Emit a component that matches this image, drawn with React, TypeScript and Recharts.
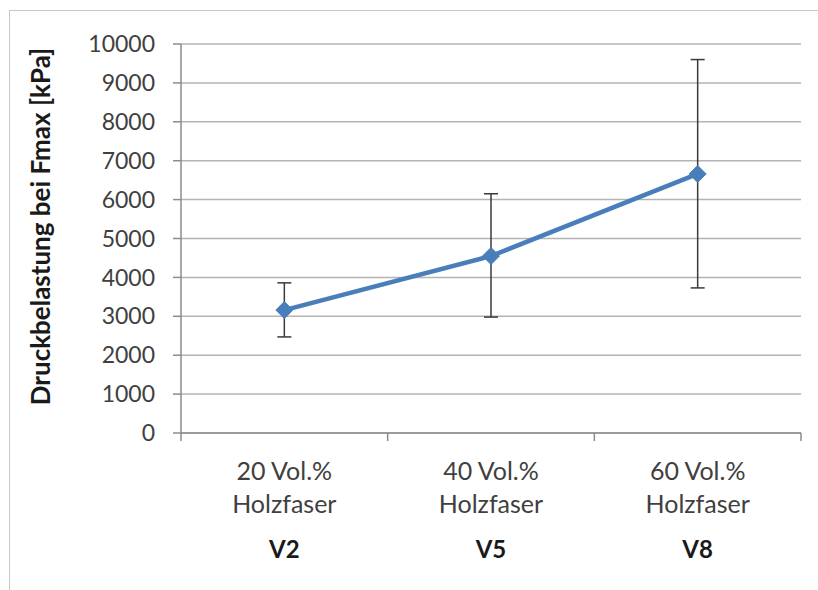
import React from "react";
import {
  ComposedChart,
  Line,
  XAxis,
  YAxis,
  CartesianGrid,
  ErrorBar,
  Label,
} from "recharts";

const categories = ["V2", "V5", "V8"];
const categoryLines = ["20 Vol.%", "40 Vol.%", "60 Vol.%"];
const categorySub = ["Holzfaser", "Holzfaser", "Holzfaser"];
const meanValues = [3160, 4550, 6660];
const lowerValues = [2470, 2980, 3730];
const upperValues = [3860, 6150, 9600];
const yTicks = [0, 1000, 2000, 3000, 4000, 5000, 6000, 7000, 8000, 9000, 10000];
const yLabel = "Druckbelastung bei Fmax [kPa]";

const data = categories.map((c, i) => ({
  cat: c,
  value: meanValues[i],
  err: [meanValues[i] - lowerValues[i], upperValues[i] - meanValues[i]],
}));

const FONT = "Lato, 'Open Sans', sans-serif";
const GRID = "#b4b4b4";
const AXIS = "#8c8c8c";

const CatTick = (props: any) => {
  const { x, y, payload, index } = props;
  const half = payload && payload.offset ? payload.offset : 0;
  const i = index;
  const isLast = i === categories.length - 1;
  return (
    <g>
      <line x1={x - half} x2={x - half} y1={y} y2={y + 8} stroke={AXIS} strokeWidth={1.5} />
      {isLast && (
        <line x1={x + half} x2={x + half} y1={y} y2={y + 8} stroke={AXIS} strokeWidth={1.5} />
      )}
      <text x={x} y={y + 37} textAnchor="middle" dominantBaseline="central" fontFamily={FONT} fontSize={25} fill="#404040">
        {categoryLines[i]}
      </text>
      <text x={x} y={y + 70} textAnchor="middle" dominantBaseline="central" fontFamily={FONT} fontSize={25} fill="#404040">
        {categorySub[i]}
      </text>
      <text x={x} y={y + 115} textAnchor="middle" dominantBaseline="central" fontFamily={FONT} fontSize={24} fontWeight="bold" fill="#1a1a1a">
        {payload.value}
      </text>
    </g>
  );
};

const Diamond = (props: any) => {
  const { cx, cy } = props;
  if (cx == null || cy == null) return null;
  const r = 8.5;
  return (
    <polygon
      points={`${cx},${cy - r} ${cx + r},${cy} ${cx},${cy + r} ${cx - r},${cy}`}
      fill="#4A7EBB"
      stroke="#4A7EBB"
      strokeWidth={1}
    />
  );
};

const YLabelContent = (props: any) => {
  const vb = props.viewBox || { x: 0, y: 44, width: 181, height: 389 };
  const cx = vb.x + 40;
  const cy = vb.y + vb.height / 2 - 12;
  return (
    <text
      x={cx}
      y={cy}
      transform={`rotate(-90, ${cx}, ${cy})`}
      textAnchor="middle"
      dominantBaseline="central"
      fontFamily={FONT}
      fontWeight="bold"
      fontSize={26}
      fill="#1a1a1a"
    >
      {yLabel}
    </text>
  );
};

export default function App() {
  return (
    <div style={{ position: "absolute", left: 0, top: 0, width: 818, height: 590, background: "#fff" }}>
      <div
        style={{
          position: "absolute",
          left: 9,
          top: 10,
          width: 809,
          height: 580,
          borderTop: "1.5px solid #c8c8c8",
          borderLeft: "1.5px solid #c8c8c8",
        }}
      />
      <div style={{ position: "absolute", left: 0, top: 0 }}>
        <ComposedChart
          width={818}
          height={590}
          data={data}
          margin={{ top: 44, right: 17, bottom: 0, left: 0 }}
        >
          <CartesianGrid vertical={false} stroke={GRID} strokeWidth={1.5} />
          <XAxis
            dataKey="cat"
            scale="band"
            height={157}
            axisLine={{ stroke: AXIS, strokeWidth: 1.5 }}
            tickLine={false}
            tickSize={0}
            tickMargin={0}
            tick={<CatTick />}
            interval={0}
          />
          <YAxis
            width={181}
            domain={[0, 10000]}
            ticks={yTicks}
            interval={0}
            axisLine={{ stroke: AXIS, strokeWidth: 1.5 }}
            tickLine={{ stroke: AXIS, strokeWidth: 1.5 }}
            tickSize={8}
            tickMargin={18}
            tick={{ fontFamily: FONT, fontSize: 23, fill: "#404040" }}
          >
            <Label content={<YLabelContent />} />
          </YAxis>
          <Line
            dataKey="value"
            type="linear"
            stroke="#4A7EBB"
            strokeWidth={4.5}
            dot={<Diamond />}
            activeDot={false}
            isAnimationActive={false}
          >
            <ErrorBar dataKey="err" direction="y" width={7} stroke="#3a3a3a" strokeWidth={1.5} />
          </Line>
        </ComposedChart>
      </div>
    </div>
  );
}
